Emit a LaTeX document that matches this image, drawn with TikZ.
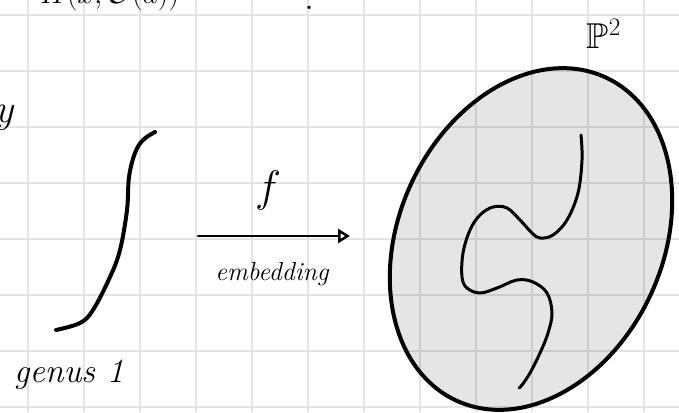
\RequirePackage{fix-cm}
\documentclass[tikz,border=0pt]{standalone}
\usepackage{amssymb}
\usepackage{fontspec}
\usetikzlibrary{arrows.meta}
\definecolor{gridgray}{HTML}{E4E4E4}
\tikzset{
  ink/.style={line cap=round, line join=round, black},
  hand/.style={inner sep=0pt},
}
\begin{document}
\begin{tikzpicture}[x=1pt,y=-1pt]
\useasboundingbox (0,0) rectangle (679,412);
\clip (0,0) rectangle (679,412);
\fill[white] (0,0) rectangle (679,412);
% grid paper
\foreach \gx in {28,84,...,680} \draw[gridgray, line width=1.6pt] (\gx,0) -- (\gx,412);
\foreach \gy in {15,71,...,412} \draw[gridgray, line width=1.6pt] (0,\gy) -- (679,\gy);
% top text cut off
\node[hand, anchor=base west, font={\fontsize{30}{30}\selectfont}] (top) at (40,4) {$H(x,\mathcal{O}(d))$};
\node[hand, font={\fontsize{40}{40}\selectfont}] (dot) at (309,8) {.};
\node[hand, anchor=base, font={\itshape\fontsize{40}{40}\selectfont}] (ylet) at (4,122) {y};
% left curve (genus 1)
\draw[ink, line width=4pt] plot[smooth, tension=0.6] coordinates {(56,330) (80,323) (93,310) (110,277) (120,250) (127,210) (129,177) (135,153) (143,140) (155,132)};
\node[hand, anchor=base west, font={\itshape\fontsize{34}{34}\selectfont}] (genus) at (14,382) {genus 1};
% arrow
\coordinate (a1) at (198,236);
\coordinate (a2) at (350,236);
\draw[ink, line width=2.5pt, -{Triangle[open, length=12pt, width=14pt, line width=2.5pt]}] (a1) -- (a2);
\node[hand, font={\fontsize{44}{44}\selectfont}] (f) at (268,190) {$f$};
\node[hand, font={\itshape\fontsize{26}{26}\selectfont}] (emb) at (272,274) {embedding};
% P^2 ellipse
\fill[black, fill opacity=0.1] (531,239) ellipse [x radius=132, y radius=178, rotate=-24.8];
\draw[ink, line width=4pt] (531,239) ellipse [x radius=132, y radius=178, rotate=-24.8];
\node[hand, font={\fontsize{36}{36}\selectfont}] (P2) at (604,34) {$\mathbb{P}^2$};
% embedded curve
\draw[ink, line width=3pt] plot[smooth, tension=0.6] coordinates {(581,135) (582,160) (578,193) (567,220) (553,235) (540,238) (532,233) (520,220) (507,208) (493,207) (480,215) (470,230) (463,253) (462,277) (467,288) (480,293) (497,288) (517,280) (533,282) (547,293) (552,313) (548,333) (540,353) (530,373) (522,385) (519,388)};
\end{tikzpicture}
\end{document}
